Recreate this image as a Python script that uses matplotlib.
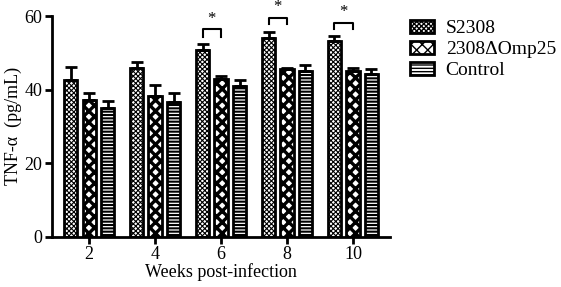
import numpy as np
import matplotlib as mpl
import matplotlib.pyplot as plt

plt.rcParams['font.family'] = ['Liberation Serif', 'DejaVu Serif']

weeks = ['2', '4', '6', '8', '10']
groups = ['S2308', '2308\u0394Omp25', 'Control']
means = {
    'S2308': [42.5, 45.8, 50.9, 54.0, 53.3],
    '2308\u0394Omp25': [37.1, 38.3, 42.9, 45.6, 45.2],
    'Control': [35.0, 36.7, 41.0, 45.0, 44.3],
}
errs = {
    'S2308': [3.6, 1.8, 1.6, 1.6, 1.3],
    '2308\u0394Omp25': [1.9, 2.9, 0.9, 0.3, 0.6],
    'Control': [2.0, 2.3, 1.6, 1.8, 1.2],
}
hatches = ['xxxxxxx', 'xxx', '-----']
hatch_lw = [0.8, 2.4, 1.5]
# significance brackets: week index, bracket height, tick bottom
sig_idx = [2, 3, 4]
sig_top = [56.4, 59.6, 58.2]
sig_bot = [54.3, 57.8, 56.4]

fig = plt.figure(figsize=(5.61, 2.87), dpi=100)
ax = fig.add_axes([0.093, 0.175, 0.602, 0.769])

x = np.arange(len(weeks))
step = 0.28
width = 0.2
for i, g in enumerate(groups):
    xs = x + (i - 1) * step
    with mpl.rc_context({'hatch.linewidth': hatch_lw[i]}):
        ax.bar(xs, means[g], width, color='white', edgecolor='black',
               linewidth=2, hatch=hatches[i], label=g, zorder=2)
    ax.errorbar(xs, means[g], yerr=[np.zeros(len(weeks)), errs[g]],
                fmt='none', ecolor='black', elinewidth=2, capsize=4,
                capthick=2, zorder=3)

for k, top, bot in zip(sig_idx, sig_top, sig_bot):
    x0 = x[k] - step
    x1 = x[k]
    ax.plot([x0, x0, x1, x1], [bot, top, top, bot], color='black', lw=1.5,
            clip_on=False)
    ax.text((x0 + x1) / 2, top + 0.6, '*', ha='center', va='bottom',
            fontsize=12, clip_on=False)

ax.set_xlim(-0.56, 4.56)
ax.set_ylim(0, 60)
ax.set_xticks(x)
ax.set_xticklabels(weeks)
ax.set_yticks([0, 20, 40, 60])
ax.tick_params(axis='both', width=2, length=5, labelsize=13, pad=2)
for s in ['top', 'right']:
    ax.spines[s].set_visible(False)
for s in ['left', 'bottom']:
    ax.spines[s].set_linewidth(2)
ax.set_xlabel('Weeks post-infection', fontsize=13, labelpad=0)
ax.set_ylabel('TNF-\u03b1  (pg/mL)', fontsize=13, labelpad=2)

ax.legend(loc='upper left', bbox_to_anchor=(1.007, 1.062), frameon=False,
          fontsize=14, handlelength=1.25, handleheight=0.7,
          labelspacing=0.17, handletextpad=0.6)

fig.savefig('out.png', dpi=100)
